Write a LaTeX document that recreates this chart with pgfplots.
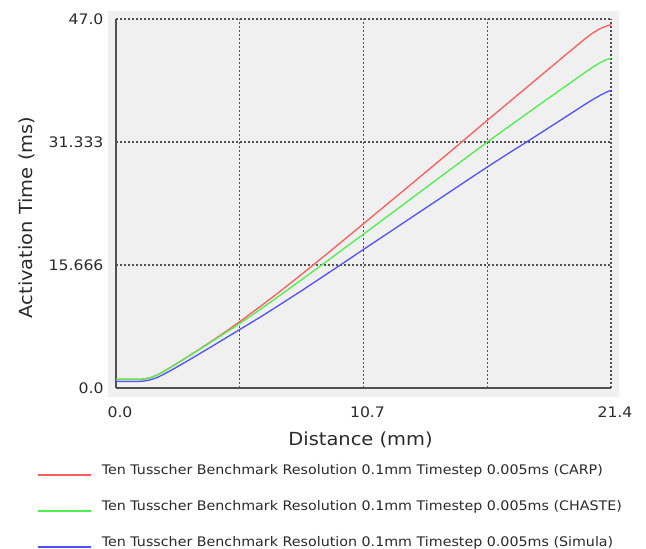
\documentclass[border=0pt]{standalone}
\usepackage{fontspec}
\setmainfont{DejaVu Sans}[FakeStretch=1.08]
\usepackage{pgfplots}
\pgfplotsset{compat=1.18}
\usetikzlibrary{backgrounds}
\definecolor{bggray}{HTML}{F0F0F0}
\definecolor{gridgray}{HTML}{505050}
\definecolor{axisgray}{HTML}{505050}
\definecolor{txt}{HTML}{2A2A2A}
\definecolor{cred}{HTML}{FF5C5C}
\definecolor{cgreen}{HTML}{4CF04C}
\definecolor{cblue}{HTML}{5050FF}
\begin{document}
\begin{tikzpicture}[x=1pt,y=1pt]
\path[use as bounding box] (0,0) rectangle (646,549);
\begin{axis}[
  name=ax,
  at={(116pt,161pt)}, anchor=south west,
  width=495pt, height=369pt, scale only axis,
  xmin=0, xmax=21.4, ymin=0, ymax=47,
  axis x line*=bottom, axis y line*=left,
  axis line style={draw=axisgray, line width=1.4pt, -},
  xtick={0,5.35,10.7,16.05,21.4},
  xticklabels={0.0,,10.7,,21.4},
  ytick={0,15.666,31.333,47},
  yticklabels={0.0,15.666,31.333,47.0},
  major tick length=0pt,
  grid=major,
  major grid style={draw=gridgray, line width=1.5pt, dash pattern=on 1.6pt off 2.4pt},
  ticklabel style={font=\fontsize{14.5}{16}\selectfont, text=txt},
  yticklabel style={anchor=east, xshift=-9pt},
  xticklabel style={anchor=north, yshift=-15pt, xshift=4pt},
  xlabel={Distance (mm)},
  ylabel={Activation Time (ms)},
  label style={font=\fontsize{18}{20}\selectfont, text=txt},
  xlabel style={at={(axis description cs:0.494,-0.1545)}, anchor=base},
  ylabel style={at={(axis description cs:-0.1677,0.462)}, anchor=base},
  legend style={at={(axis description cs:-0.159,-0.203)}, anchor=north west,
    draw=none, fill=none, inner sep=0pt, row sep=22.5pt,
    font=\fontsize{13.2}{15}\selectfont, text=txt,
    nodes={inner sep=1pt},
    /tikz/every odd column/.append style={column sep=9pt}},
  legend cell align=left,
  legend image code/.code={\draw[#1, line width=1.3pt] (0pt,-5pt) -- (53pt,-5pt);},
  every axis plot/.append style={line width=1.3pt},
]
\addplot[cred] coordinates {
(0,1.1) (1.0,1.1) (1.25,1.15) (1.5,1.32) (1.75,1.62) (2.0,2.0) (2.5,2.88)
(3.0,3.8) (3.5,4.74) (4.0,5.7) (4.5,6.68) (5.35,8.45) (6.22,10.35)
(7.0,12.1) (8.0,14.42) (9.0,16.8) (10.7,20.93) (12.0,24.1)
(13.0,26.55) (14.0,29.0) (14.93,31.3) (16.05,34.1) (16.6,35.45)
(17.5,37.67) (18.5,40.13) (19.5,42.59) (20.2,44.3) (20.6,45.2)
(20.93,45.78) (21.2,46.1) (21.4,46.28)
};
\addlegendentry{Ten Tusscher Benchmark Resolution 0.1mm Timestep 0.005ms (CARP)}
\addplot[cgreen] coordinates {
(0,1.1) (1.0,1.1) (1.25,1.15) (1.5,1.32) (1.75,1.62) (2.0,2.0) (2.5,2.88)
(3.0,3.8) (3.5,4.72) (4.0,5.65) (4.5,6.6) (5.35,8.22) (6.22,9.98)
(7.0,11.62) (8.0,13.75) (9.0,15.9) (10.7,19.6) (12.0,22.45) (13.0,24.65)
(14.0,26.85) (15.0,29.03) (16.05,31.33) (16.6,32.5) (17.5,34.4)
(18.5,36.5) (19.5,38.58) (20.2,40.03) (20.6,40.85) (20.93,41.45)
(21.2,41.82) (21.4,41.99)
};
\addlegendentry{Ten Tusscher Benchmark Resolution 0.1mm Timestep 0.005ms (CHASTE)}
\addplot[cblue] coordinates {
(0,0.84) (1.0,0.84) (1.25,0.9) (1.5,1.05) (1.75,1.3) (2.0,1.65) (2.5,2.45)
(3.0,3.3) (3.5,4.17) (4.0,5.05) (4.5,5.93) (5.35,7.45) (6.22,9.0)
(7.0,10.45) (8.0,12.35) (9.0,14.3) (9.68,15.63) (10.7,17.65) (12.0,20.2)
(13.0,22.17) (14.0,24.13) (15.0,26.1) (16.05,28.15) (17.0,29.95)
(17.76,31.35) (18.5,32.75) (19.5,34.65) (20.2,35.98) (20.6,36.72)
(20.93,37.28) (21.2,37.68) (21.4,37.92)
};
\addlegendentry{Ten Tusscher Benchmark Resolution 0.1mm Timestep 0.005ms (Simula)}
\end{axis}
\begin{scope}[on background layer]
\fill[bggray] ([shift={(-8pt,-9pt)}]ax.south west) rectangle ([shift={(8pt,8pt)}]ax.north east);
\end{scope}
\end{tikzpicture}
\end{document}
